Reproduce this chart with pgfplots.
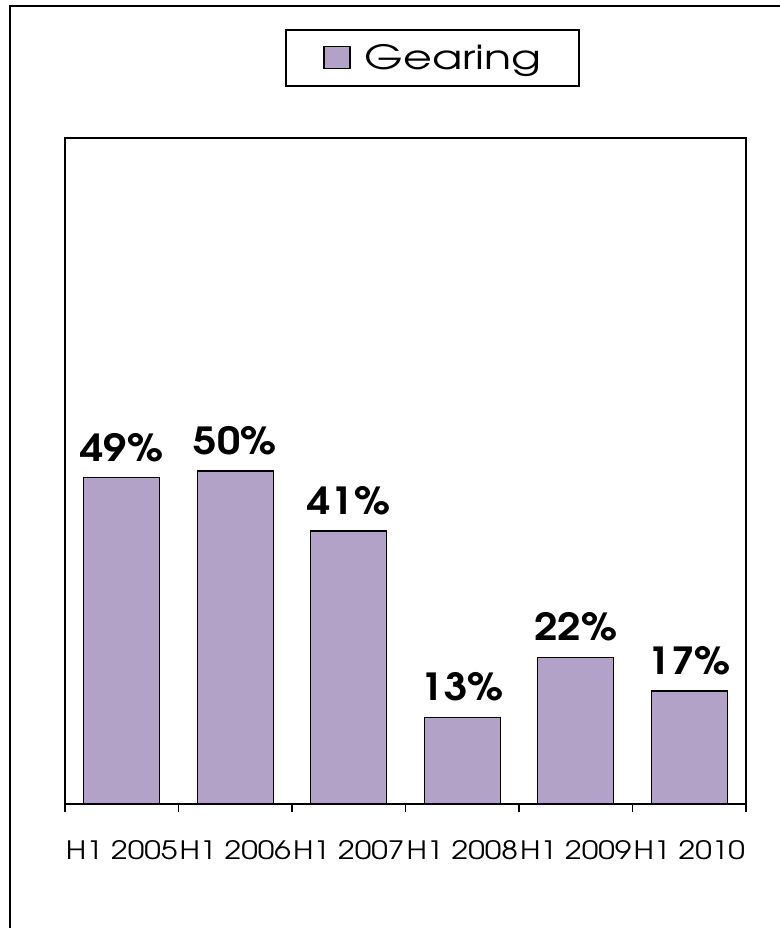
\documentclass[border=0pt]{standalone}
\usepackage{graphicx}
\usepackage{pgfplots}
\pgfplotsset{compat=1.18}
\usepackage{fontspec}
\setmainfont{texgyreadventor}[Extension=.otf, UprightFont=*-regular, BoldFont=*-bold]
\definecolor{barfill}{HTML}{B3A2C7}
\newcommand{\sx}[1]{\scalebox{1.18}[1]{#1}}
\begin{document}
\begin{tikzpicture}
\useasboundingbox (0,0) rectangle (584.25pt,-696pt);
\draw[line width=1.5pt] (7.5pt,-720pt) -- (7.5pt,-4.5pt) -- (620pt,-4.5pt);
\begin{axis}[
  at={(48.75pt,-603pt)}, anchor=south west,
  scale only axis, width=510.75pt, height=499.5pt,
  xmin=-0.5, xmax=5.5, ymin=0, ymax=100,
  enlarge x limits=false,
  axis line style={black, line width=1.1pt},
  ytick=\empty,
  xtick={0,1,2,3,4,5},
  xticklabels={\sx{H1 2005},\sx{H1 2006},\sx{H1 2007},\sx{H1 2008},\sx{H1 2009},\sx{H1 2010}},
  xtick pos=bottom,
  major tick length=0pt,
  extra x ticks={-0.5,0.5,1.5,2.5,3.5,4.5,5.5},
  extra x tick labels={},
  extra x tick style={major tick length=6pt, tick align=outside, xtick pos=bottom, tick style={black, line width=1.1pt}},
  xticklabel style={anchor=north, inner sep=0pt, yshift=-27pt, font=\fontsize{19pt}{19pt}\selectfont},
  /pgf/number format/assume math mode=true,
  /pgf/number format/fixed, /pgf/number format/precision=0,
  clip=false,
  ybar, bar width=57pt,
  nodes near coords={\scalebox{1.12}[1]{\pgfmathprintnumber{\pgfplotspointmeta}\%}},
  nodes near coords style={anchor=south, inner sep=0pt, yshift=11.5pt, font=\fontsize{28pt}{28pt}\selectfont\bfseries, black},
  legend style={at={(0.5396,1.1201)}, anchor=center, draw=black, line width=1.4pt,
     inner xsep=28pt, inner ysep=11pt, nodes={inner sep=0pt}, cells={anchor=base},
     font=\fontsize{25pt}{25pt}\selectfont, column sep=10.5pt},
]
\addplot[draw=black, fill=barfill, line width=1.1pt,
  legend image code/.code={\draw[draw=black, fill=barfill, line width=1pt] (0pt,1pt) rectangle (19.5pt,17.5pt);}]
  coordinates {(0,49) (1,50) (2,41) (3,13) (4,22) (5,17)};
\addlegendentry{\scalebox{1.33}[1]{Gearing}}
\end{axis}
\end{tikzpicture}
\end{document}
